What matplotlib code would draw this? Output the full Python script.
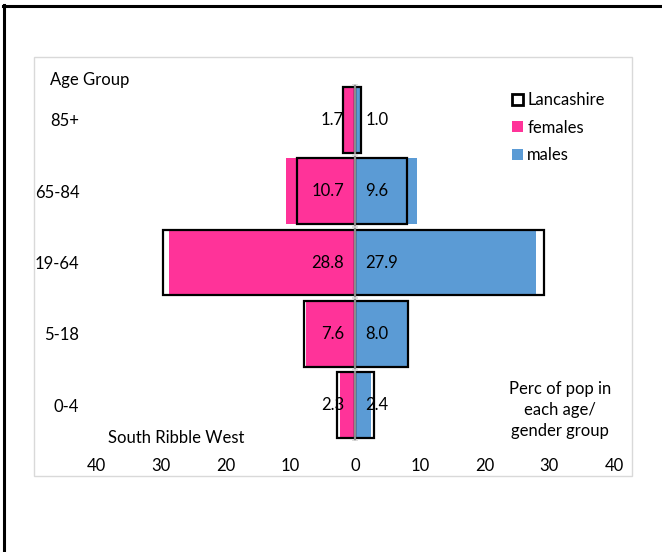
import matplotlib
matplotlib.use("Agg")
import matplotlib.pyplot as plt
from matplotlib.patches import Patch, Rectangle
from matplotlib.lines import Line2D
import numpy as np

plt.rcParams['font.family'] = ['Lato', 'DejaVu Sans']
plt.rcParams['font.size'] = 12

# data (top to bottom as drawn: 0-4 at the bottom)
ages = ["0-4", "5-18", "19-64", "65-84", "85+"]
srw_females = [2.3, 7.6, 28.8, 10.7, 1.7]
srw_males = [2.4, 8.0, 27.9, 9.6, 1.0]
lancs_females = [2.8, 7.9, 29.7, 9.0, 1.8]
lancs_males = [2.9, 8.2, 29.2, 8.0, 0.9]
xticks = [-40, -30, -20, -10, 0, 10, 20, 30, 40]

PINK = '#FF3399'
BLUE = '#5B9BD5'

W, H = 662, 552
fig = plt.figure(figsize=(W / 100, H / 100), dpi=100)

def fx(px):
    return px / W

def fy(py):
    return 1 - py / H

# outer frame (top and left only visible) and chart area border
fig.add_artist(Line2D([fx(4), fx(4)], [fy(5), 0], color='black', lw=2.2))
fig.add_artist(Line2D([fx(3), 1], [fy(6), fy(6)], color='black', lw=2.2))
fig.add_artist(Rectangle((fx(34), fy(476)), fx(632) - fx(34), fy(57) - fy(476),
                         transform=fig.transFigure, fill=False, ec='#d9d9d9', lw=1))

ax = fig.add_axes([fx(96), fy(441), fx(614) - fx(96), fy(84) - fy(441)])
y = np.arange(len(ages))
bh = 0.92

ax.barh(y, -np.array(srw_females), height=bh, color=PINK, lw=0, zorder=2)
ax.barh(y, srw_males, height=bh, color=BLUE, lw=0, zorder=2)
ax.barh(y, -np.array(lancs_females), height=bh, facecolor='none', edgecolor='black', lw=1.6, zorder=3)
ax.barh(y, lancs_males, height=bh, facecolor='none', edgecolor='black', lw=1.6, zorder=3)

# centre axis line with small category ticks
ax.axvline(0, color='#8c8c8c', lw=1.6, zorder=4)
ax.hlines(np.arange(len(ages) + 1) - 0.5, -0.5, 0.5, color='#d9d9d9', lw=1.2, zorder=4)

for yi, f, m in zip(y, srw_females, srw_males):
    ax.annotate(f"{f:.1f}", (0, yi), xytext=(-8, 0), textcoords='offset points',
                ha='right', va='center', zorder=5)
    ax.annotate(f"{m:.1f}", (0, yi), xytext=(7.5, 0), textcoords='offset points',
                ha='left', va='center', zorder=5)

ax.set_xlim(-40, 40)
ax.set_ylim(-0.5, len(ages) - 0.5)
ax.set_xticks(xticks, labels=[str(abs(t)) for t in xticks])
ax.set_yticks(y, labels=ages)
ax.tick_params(axis='both', length=0)
ax.tick_params(axis='x', pad=12)
ax.tick_params(axis='y', pad=12)
for s in ax.spines.values():
    s.set_visible(False)
ax.patch.set_alpha(0)

fig.text(fx(50), fy(80), "Age Group", ha='left', va='center')
fig.text(fx(560), fy(410), "Perc of pop in\neach age/\ngender group", ha='center', va='center',
         linespacing=1.4)
fig.text(fx(176), fy(438), "South Ribble West", ha='center', va='center')

handles = [Patch(facecolor='white', edgecolor='black', lw=2),
           Patch(facecolor=PINK, lw=0),
           Patch(facecolor=BLUE, lw=0)]
fig.legend(handles, ["Lancashire", "females", "males"], loc='upper left',
           bbox_to_anchor=(fx(504), fy(84)), frameon=False, handlelength=0.65,
           handleheight=0.65, handletextpad=0.25, labelspacing=0.68, borderpad=0)

fig.savefig("out.png", dpi=100)
